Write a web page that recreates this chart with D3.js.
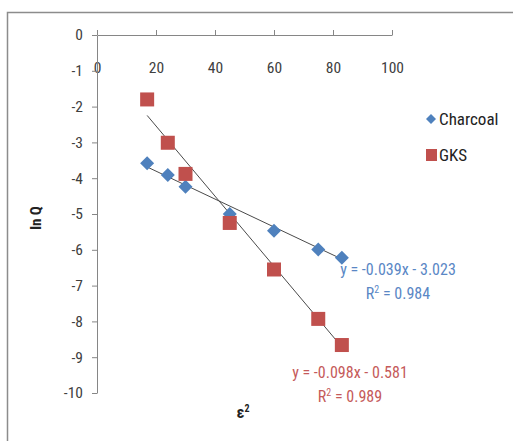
<!DOCTYPE html>
<html lang="en">
<head>
  <meta charset="UTF-8" />
  <title>ln Q vs ε²</title>
  <script src="https://d3js.org/d3.v7.min.js"></script>
  <style>
    body { margin: 0; background: #ffffff; }
    svg text { font-family: "Liberation Sans Narrow", "Roboto Condensed", "Liberation Sans", sans-serif; }
    .tick text { font-size: 15.5px; fill: #404040; }
    .domain, .tick line { stroke: #868686; }
  </style>
</head>
<body>
  <div id="chart"></div>
  <script>
    // x values (epsilon squared) shared by both series
    const eps2 = [17, 24, 30, 45, 60, 75, 83];
    const charcoal = [-3.58, -3.91, -4.24, -5.0, -5.47, -5.99, -6.22];
    const gks = [-1.8, -3.01, -3.88, -5.25, -6.55, -7.93, -8.66];

    const xTicks = [0, 20, 40, 60, 80, 100];
    const yTicks = [0, -1, -2, -3, -4, -5, -6, -7, -8, -9, -10];

    // trendlines as given in the chart labels
    const fits = [
      { name: "Charcoal", slope: -0.039, icpt: -3.023, eq: "y = -0.039x - 3.023", r2: "0.984", color: "#4F81BD", text: "#5A87C5" },
      { name: "GKS", slope: -0.098, icpt: -0.581, eq: "y = -0.098x - 0.581", r2: "0.989", color: "#C0504D", text: "#C55A5A" }
    ];

    const W = 513, H = 441;
    const svg = d3.select("#chart").append("svg")
      .attr("width", W).attr("height", H);

    // chart area border
    svg.append("rect")
      .attr("x", 7.5).attr("y", 12.5)
      .attr("width", W).attr("height", H)
      .attr("fill", "none")
      .attr("stroke", "#8c8c8c")
      .attr("stroke-width", 1.5);

    const x = d3.scaleLinear().domain([0, 100]).range([97, 392]);
    const y = d3.scaleLinear().domain([-10, 0]).range([393, 35]);

    const plain = d => String(d); // hyphen minus like the original

    // x axis sits at y = 0, ticks up, labels below
    const xAxis = svg.append("g")
      .attr("transform", `translate(0,${y(0)})`)
      .call(d3.axisTop(x).tickValues(xTicks).tickFormat(plain).tickSize(5).tickSizeOuter(0).tickPadding(0));
    xAxis.selectAll(".tick text")
      .attr("dy", 0)
      .attr("y", 38);

    svg.append("g")
      .attr("transform", `translate(${x(0)},0)`)
      .call(d3.axisLeft(y).tickValues(yTicks).tickFormat(plain).tickSize(5).tickSizeOuter(0).tickPadding(9));

    // trendlines
    fits.forEach(f => {
      svg.append("line")
        .attr("x1", x(d3.min(eps2))).attr("y1", y(f.slope * d3.min(eps2) + f.icpt))
        .attr("x2", x(d3.max(eps2))).attr("y2", y(f.slope * d3.max(eps2) + f.icpt))
        .attr("stroke", "#4a4a4a").attr("stroke-width", 1);
    });

    // charcoal: diamonds
    svg.append("g").selectAll("path")
      .data(eps2.map((e, i) => [e, charcoal[i]]))
      .enter().append("path")
      .attr("transform", d => `translate(${x(d[0])},${y(d[1])})`)
      .attr("d", "M0,-7L7,0L0,7L-7,0Z")
      .attr("fill", "#4F81BD");

    // GKS: squares
    svg.append("g").selectAll("rect")
      .data(eps2.map((e, i) => [e, gks[i]]))
      .enter().append("rect")
      .attr("x", d => x(d[0]) - 7).attr("y", d => y(d[1]) - 7)
      .attr("width", 14).attr("height", 14)
      .attr("fill", "#C0504D");

    // equation labels
    const eqPos = [[398, 275], [350, 378]];
    fits.forEach((f, i) => {
      svg.append("text")
        .attr("x", eqPos[i][0]).attr("y", eqPos[i][1])
        .attr("text-anchor", "middle")
        .attr("font-size", 16)
        .attr("fill", f.text)
        .text(f.eq);
      const r = svg.append("text")
        .attr("x", eqPos[i][0]).attr("y", eqPos[i][1] + 24)
        .attr("text-anchor", "middle")
        .attr("font-size", 16)
        .attr("fill", f.text);
      r.append("tspan").text("R");
      r.append("tspan").attr("dy", -6).attr("font-size", 10).text("2");
      r.append("tspan").attr("dy", 6).text(" = " + f.r2);
    });

    // legend
    const leg = svg.append("g");
    leg.append("path")
      .attr("transform", "translate(431,119)")
      .attr("d", "M0,-5L5,0L0,5L-5,0Z")
      .attr("fill", "#4F81BD");
    leg.append("text").attr("x", 439).attr("y", 125)
      .attr("font-size", 17).attr("fill", "#222").text("Charcoal");
    leg.append("rect")
      .attr("x", 426).attr("y", 149).attr("width", 11).attr("height", 12)
      .attr("fill", "#C0504D");
    leg.append("text").attr("x", 439).attr("y", 161)
      .attr("font-size", 17).attr("fill", "#222").text("GKS");

    // axis titles
    svg.append("text")
      .attr("transform", "translate(41,218) rotate(-90)")
      .attr("text-anchor", "middle")
      .attr("font-size", 15).attr("font-weight", "bold")
      .attr("fill", "#222")
      .text("ln Q");
    const xt = svg.append("text")
      .attr("x", 243).attr("y", 418)
      .attr("text-anchor", "middle")
      .attr("font-size", 16).attr("font-weight", "bold")
      .attr("fill", "#222");
    xt.append("tspan").text("ε");
    xt.append("tspan").attr("dy", -6).attr("font-size", 10).text("2");
  </script>
</body>
</html>
